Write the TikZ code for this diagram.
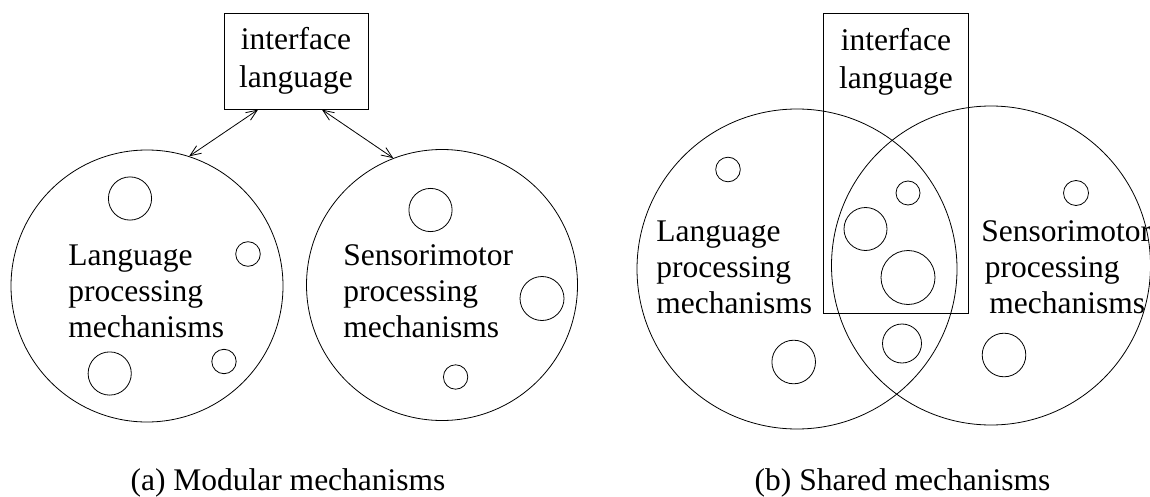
\documentclass[tikz,border=0pt]{standalone}
\usepackage{fontspec}
\setmainfont{Liberation Serif}
\usetikzlibrary{arrows.meta}

\tikzset{
  mech/.style={draw, circle, inner sep=0pt},
  iface/.style={draw, rectangle, inner sep=0pt, line width=0.9pt, align=center,
    font=\fontsize{31.5}{38}\selectfont},
  mtext/.style={align=left, inner sep=0pt, anchor=base west,
    font=\fontsize{31.5}{36}\selectfont},
  capt/.style={inner sep=0pt, anchor=base, font=\fontsize{31.5}{36}\selectfont}
}

\begin{document}
\begin{tikzpicture}[x=1pt, y=-1pt, line width=0.8pt,
    >={Straight Barb[length=11pt,width=9pt]}]

    \useasboundingbox (0,0) rectangle (1150,497);

    % (a) modular
    \node[iface, minimum width=144pt, minimum height=96pt] (ifa) at (296,61.2) {interface\\language};
    \node[mech, minimum size=272pt] (langa) at (147,286) {};
    \node[mech, minimum size=271pt] (sensa) at (442,285) {};

    \foreach \x/\y/\r in {130/198.5/21.6, 248/254/12.3, 109.7/373.5/21.6, 224/361.5/12.2,
                          430.5/210/21.6, 542/298.5/22, 455.6/377/12.2} {
      \draw (\x,\y) circle[radius=\r];
    }

    % last line sits on the given baseline
    \node[mtext] (langatxt) at (68,337.3) {Language\\processing\\mechanisms};
    \node[mtext] (sensatxt) at (343,337.3) {Sensorimotor\\processing\\mechanisms};

    \draw[<->] ([xshift=-38pt]ifa.south) -- (langa.72);
    \draw[<->] ([xshift=26pt]ifa.south) -- (sensa.111.5);

    \node[capt] (capa) at (288,490) {(a) Modular mechanisms};

    % (b) shared
    \node[mech, minimum size=320pt] (langb) at (797,269) {};
    \node[mech, minimum size=319pt] (sensb) at (991,265.5) {};
    \node[iface, minimum width=144.7pt, minimum height=300pt] (ifb) at (896,163.3) {};
    \node[iface, draw=none] (ifbtxt) at (896,61.7) {interface\\language};

    \foreach \x/\y/\r in {728/169.5/12.3, 908/193/12, 865.5/229/21.5, 908/277.5/27,
                          902/343.5/19.5, 793.7/362/21.8, 1004/355/21.8, 1076/193/12.5} {
      \draw (\x,\y) circle[radius=\r];
    }

    \node[mtext] (langbtxt) at (656,313.3) {Language\\processing\\mechanisms};
    \node[mtext] (sensbtxt) at (981,313.3) {Sensorimotor\\\hspace*{3.5pt}processing\\\hspace*{8pt}mechanisms};

    \node[capt] (capb) at (902.5,490) {(b) Shared mechanisms};

\end{tikzpicture}
\end{document}
